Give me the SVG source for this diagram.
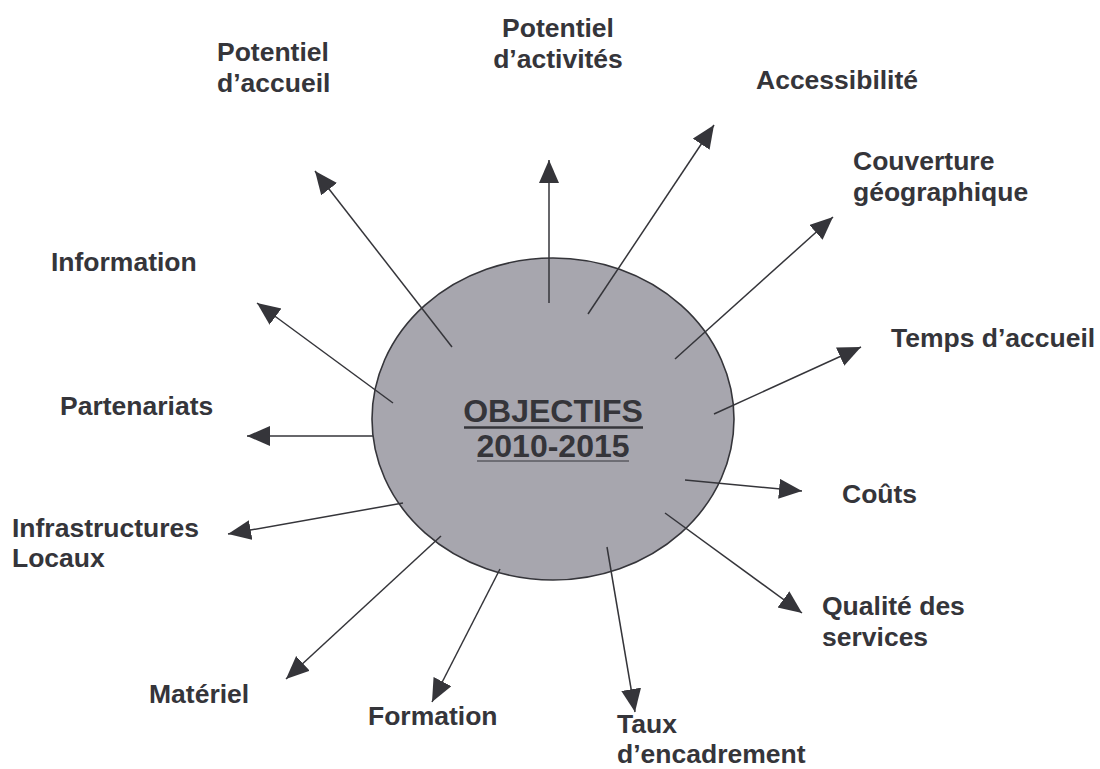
<svg xmlns="http://www.w3.org/2000/svg" width="1100" height="769" viewBox="0 0 1100 769">
<style>
.lbl{font-family:"Liberation Sans",Arial,sans-serif;font-weight:bold;font-size:26.5px;fill:#35353a}
.ctr{font-family:"Liberation Sans",Arial,sans-serif;font-weight:bold;font-size:32px;fill:#35353a;text-anchor:middle}
.arr{stroke:#35353a;stroke-width:1.5;fill:none;marker-end:url(#ah)}
</style>
<defs>
<marker id="ah" markerUnits="userSpaceOnUse" markerWidth="24" markerHeight="21" refX="23" refY="10" orient="auto" viewBox="0 0 24 21">
<path d="M0,0 L23,10 L0,20 z" fill="#35353a"/>
</marker>
</defs>
<rect width="1100" height="769" fill="#ffffff"/>
<g id="center">
<ellipse cx="553" cy="419" rx="181" ry="161" fill="#a7a6ae" stroke="#35353a" stroke-width="1.6"/>
<text class="ctr" x="553" y="422">OBJECTIFS</text>
<line x1="464" y1="427.5" x2="643" y2="427.5" stroke="#35353a" stroke-width="2.5"/>
<text class="ctr" x="553" y="457">2010-2015</text>
<line x1="477" y1="461" x2="629" y2="461" stroke="#35353a" stroke-width="1"/>
</g>
<g id="connectors">
<line class="arr" x1="452" y1="347" x2="315" y2="171"/>
<line class="arr" x1="549" y1="303" x2="549" y2="160"/>
<line class="arr" x1="588" y1="314" x2="714" y2="125"/>
<line class="arr" x1="675" y1="359" x2="833" y2="217"/>
<line class="arr" x1="714" y1="414" x2="861" y2="347"/>
<line class="arr" x1="685" y1="480" x2="802" y2="491"/>
<line class="arr" x1="665" y1="513" x2="802" y2="613"/>
<line class="arr" x1="607" y1="547" x2="635" y2="712"/>
<line class="arr" x1="500" y1="569" x2="432" y2="702"/>
<line class="arr" x1="441" y1="536" x2="286" y2="679"/>
<line class="arr" x1="403" y1="503" x2="228" y2="534"/>
<line class="arr" x1="373" y1="436" x2="247" y2="436"/>
<line class="arr" x1="393" y1="403" x2="257" y2="303"/>
</g>
<g id="n-potentiel-accueil"><text class="lbl" x="217" y="61">Potentiel</text><text class="lbl" x="217" y="92">d’accueil</text></g>
<g id="n-potentiel-activites"><text class="lbl" x="558" y="37" text-anchor="middle">Potentiel</text><text class="lbl" x="558" y="68" text-anchor="middle">d’activités</text></g>
<g id="n-accessibilite"><text class="lbl" x="756" y="89">Accessibilité</text></g>
<g id="n-couverture"><text class="lbl" x="853" y="170">Couverture</text><text class="lbl" x="853" y="201">géographique</text></g>
<g id="n-temps"><text class="lbl" x="891" y="347">Temps d’accueil</text></g>
<g id="n-couts"><text class="lbl" x="842" y="503">Coûts</text></g>
<g id="n-qualite"><text class="lbl" x="822" y="615">Qualité des</text><text class="lbl" x="822" y="646">services</text></g>
<g id="n-taux"><text class="lbl" x="617" y="733">Taux</text><text class="lbl" x="617" y="763">d’encadrement</text></g>
<g id="n-formation"><text class="lbl" x="368" y="725">Formation</text></g>
<g id="n-materiel"><text class="lbl" x="149" y="703">Matériel</text></g>
<g id="n-infra"><text class="lbl" x="12" y="537">Infrastructures</text><text class="lbl" x="12" y="567">Locaux</text></g>
<g id="n-partenariats"><text class="lbl" x="60" y="415">Partenariats</text></g>
<g id="n-information"><text class="lbl" x="51" y="271">Information</text></g>
</svg>
